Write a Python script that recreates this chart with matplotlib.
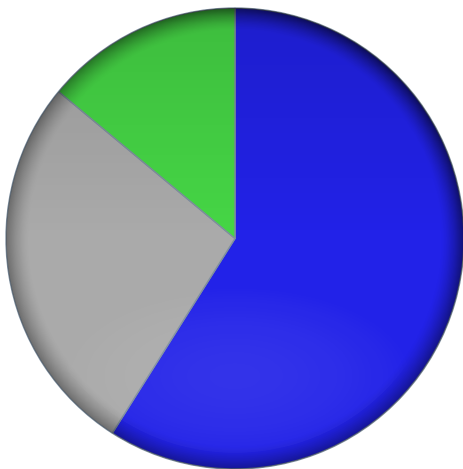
import numpy as np
import matplotlib
matplotlib.use('Agg')
import matplotlib.pyplot as plt
from matplotlib.patches import Circle

# slice shares, clockwise from 12 o'clock
labels = ['Blue', 'Gray', 'Green']
values = [59, 27, 14]
colors = ['#2222e8', '#aaaaaa', '#46d646']

fig = plt.figure(figsize=(4.64, 4.69), dpi=100)
ax = fig.add_axes([6 / 464, 0, 458 / 464, 461 / 469])

wedges, _ = ax.pie(values, colors=colors, startangle=90, counterclock=False,
                   wedgeprops={'linewidth': 1.0, 'edgecolor': '#7f8f9f'})
ax.axis('off')

# glossy shading: dark rim (stronger top-right), darker toward the top
n = 400
xs = np.linspace(-1, 1, n)
X, Y = np.meshgrid(xs, xs)
R = np.sqrt(X ** 2 + Y ** 2)
rgba = np.zeros((n, n, 4))
rim = np.clip((R - 0.90) / 0.10, 0, 1) ** 1.5
side = 0.35 + 0.2 * np.clip((X + Y) / 1.4, 0, 1)
top_dark = np.clip(Y, 0, 1) * 0.12
rgba[..., 3] = np.clip(rim * side + top_dark, 0, 1)
img = ax.imshow(rgba, extent=(-1, 1, -1, 1), origin='lower', zorder=3)
img.set_clip_path(Circle((0, 0), 1, transform=ax.transData))

light = np.zeros((n, n, 4))
light[..., :3] = 1
glow = np.clip(1 - ((X / 0.8) ** 2 + ((Y + 0.6) / 0.4) ** 2), 0, 1)
light[..., 3] = glow * 0.08
img2 = ax.imshow(light, extent=(-1, 1, -1, 1), origin='lower', zorder=4)
img2.set_clip_path(Circle((0, 0), 0.93, transform=ax.transData))

ax.set_xlim(-1, 1)
ax.set_ylim(-1, 1)
ax.set_aspect('auto')

fig.savefig('out.png', dpi=100)
